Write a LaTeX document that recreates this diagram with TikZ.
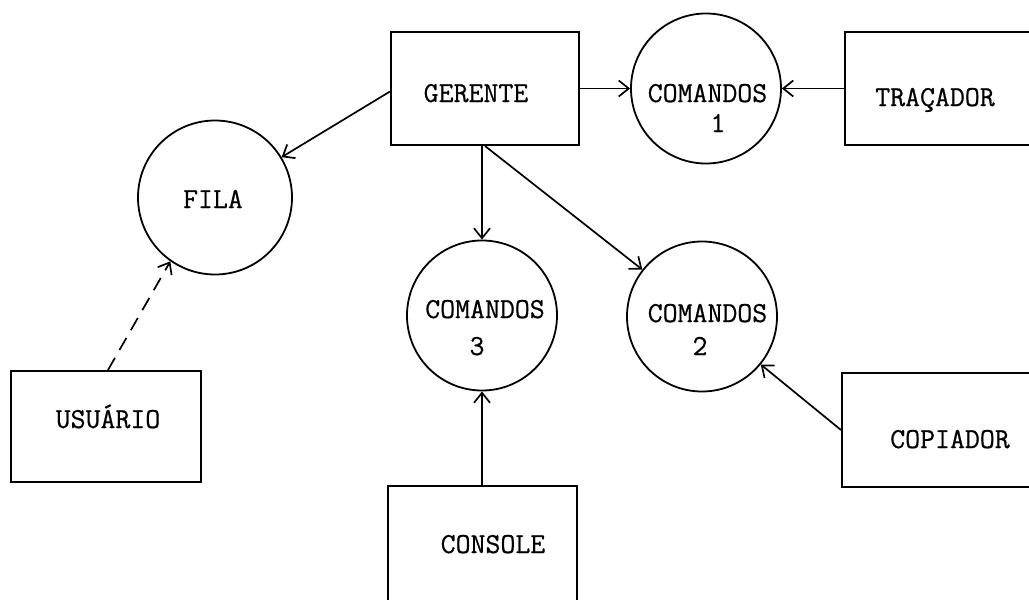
\documentclass[tikz,border=0pt]{standalone}
\usepackage{fontspec}
\newfontfamily\typew[FakeBold=0.6]{Latin Modern Mono}
\usetikzlibrary{arrows.meta}
\tikzset{
  boxnode/.style={draw, line width=2pt, rectangle, inner sep=0pt},
  circnode/.style={draw, line width=1.8pt, circle, inner sep=0pt, minimum size=150pt},
  lbl/.style={anchor=base, inner sep=0pt, font=\fontsize{29}{32}\selectfont\typew},
  conn/.style={line width=1.7pt, -{Straight Barb[length=10pt,width=16pt,line width=1.7pt]}},
}
\begin{document}
\begin{tikzpicture}[x=1pt,y=-1pt]
\useasboundingbox (0,0) rectangle (1029,600);
\fill[white] (0,0) rectangle (1029,600);
\clip (0,0) rectangle (1029,600);
% boxes
\node[boxnode, minimum width=188pt, minimum height=113pt] (ger) at (485,88.5) {};
\node[boxnode, minimum width=215pt, minimum height=113pt] (trac) at (952.5,88.5) {};
\node[boxnode, minimum width=190pt, minimum height=111pt] (usu) at (106,426.5) {};
\node[boxnode, minimum width=218pt, minimum height=114pt] (cop) at (951,430) {};
\node[boxnode, minimum width=189pt, minimum height=134pt] (con) at (482.5,553) {};
% circles
\node[circnode] (c1) at (706,88.5) {};
\node[circnode, minimum size=154pt] (fila) at (215,197.5) {};
\node[circnode] (c3) at (482,315.5) {};
\node[circnode] (c2) at (702,316.5) {};
% labels
\node[lbl] (tger) at (476,102) {GERENTE};
\node[lbl] (ttrac) at (935,106) {TRAÇADOR};
\node[lbl] (tusu) at (108,428) {USUÁRIO};
\node[lbl] (tcop) at (950,448) {COPIADOR};
\node[lbl] (tcon) at (493,553) {CONSOLE};
\node[lbl] (tfila) at (213,208) {FILA};
\node[lbl] (tc1a) at (707.5,102) {COMANDOS};
\node[lbl] (tc1b) at (718,132) {1};
\node[lbl] (tc3a) at (485,318) {COMANDOS};
\node[lbl] (tc3b) at (477,355) {3};
\node[lbl] (tc2a) at (707.5,322) {COMANDOS};
\node[lbl] (tc2b) at (700,355) {2};
% connectors
\draw[conn] (ger) -- (c1);
\draw[conn] (trac) -- (c1);
\draw[conn] ([yshift=-3pt]ger.west) -- (fila);
\draw[conn] (c3 |- ger.south) -- (c3.north);
\draw[conn] (ger.south) -- (c2);
\draw[conn] (cop.west) -- (c2);
\draw[conn] (con.north -| c3) -- (c3.south);
\draw[conn, dash pattern=on 14pt off 9pt] ([xshift=2pt]usu.north) -- (fila.235);
\end{tikzpicture}
\end{document}
